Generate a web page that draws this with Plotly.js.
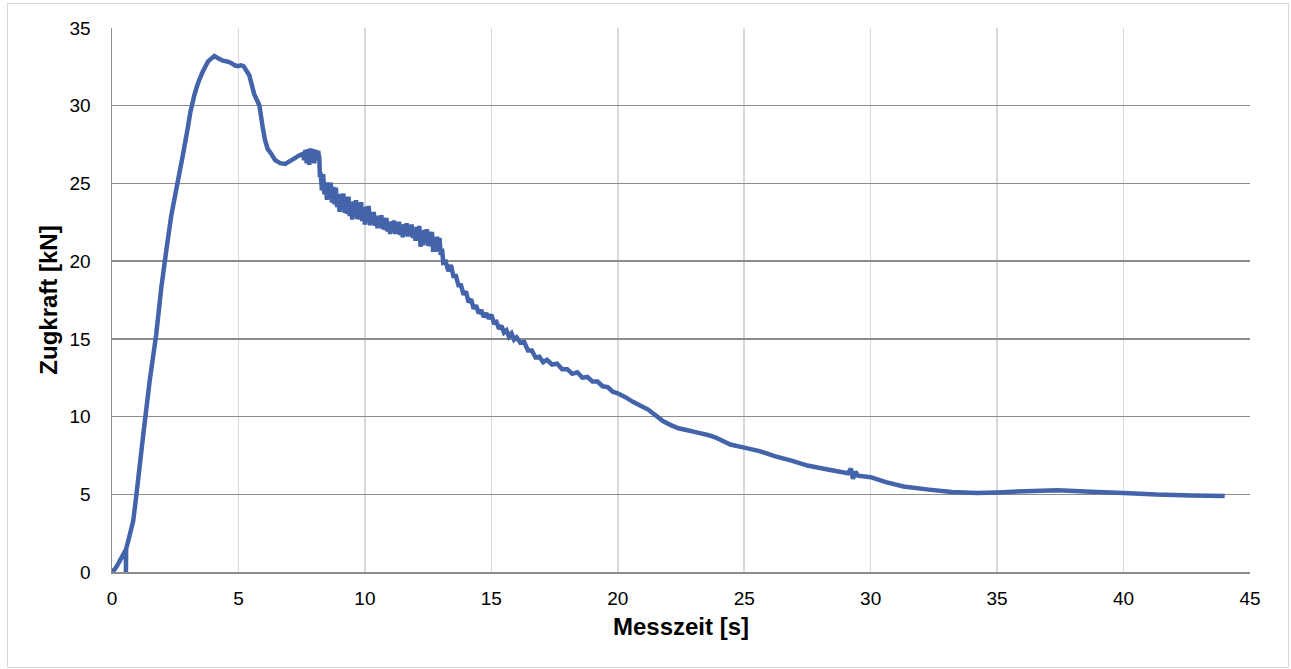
<!DOCTYPE html>
<html>
<head>
<meta charset="utf-8">
<script src="https://cdn.plot.ly/plotly-3.0.1.min.js"></script>
<style>
  html, body { margin: 0; padding: 0; background: #ffffff; }
  #wrap { position: relative; width: 1291px; height: 669px; }
  #chart { position: absolute; left: 0; top: 0; width: 1291px; height: 669px; }
  #frame { position: absolute; left: 7px; top: 3px; width: 1280px; height: 663px; border: 1px solid #d9d9d9; pointer-events: none; }
</style>
</head>
<body>
<div id="wrap">
  <div id="chart"></div>
  <div id="frame"></div>
</div>
<script>
// Messzeit [s]
const zeit = [
  0, 0.1, 0.2, 0.3, 0.4, 0.5, 0.55, 0.55, 0.56, 0.65, 0.84, 0.96,
  1.22, 1.49, 1.75, 1.95, 2.14, 2.34, 2.61, 2.8, 3.0, 3.1, 3.26, 3.36, 3.46, 3.59, 3.72, 3.8, 3.9, 4.05,
  4.2, 4.38, 4.55, 4.71, 4.85, 4.97, 5.1, 5.2, 5.3, 5.43, 5.55, 5.63, 5.75, 5.83,
  5.96, 6.05, 6.16, 6.3, 6.45, 6.65, 6.85, 7.0, 7.2, 7.4,
  7.55, 7.60, 7.65, 7.70, 7.75, 7.80, 7.85, 7.90, 7.95, 8.00, 8.05, 8.10, 8.15, 8.20, 8.22,
  8.25, 8.30, 8.35, 8.40, 8.45, 8.50, 8.55, 8.60, 8.65, 8.70,
  8.75, 8.80, 8.85, 8.90, 8.95, 9.00, 9.05, 9.10, 9.15, 9.20,
  9.25, 9.30, 9.35, 9.40, 9.45, 9.50, 9.55, 9.60, 9.65, 9.70,
  9.75, 9.80, 9.85, 9.90, 9.95, 10.00, 10.05, 10.10, 10.15, 10.20,
  10.25, 10.30, 10.35, 10.40, 10.45, 10.50, 10.55, 10.60, 10.65, 10.70,
  10.75, 10.80, 10.85, 10.90, 10.95, 11.00, 11.05, 11.10, 11.15, 11.20,
  11.25, 11.30, 11.35, 11.40, 11.45, 11.50, 11.55, 11.60, 11.65, 11.70,
  11.75, 11.80, 11.85, 11.90, 11.95, 12.00, 12.05, 12.10, 12.15, 12.20,
  12.25, 12.30, 12.35, 12.40, 12.45, 12.50, 12.55, 12.60, 12.65, 12.70,
  12.75, 12.80, 12.85, 12.90, 12.95, 13.00, 13.05, 13.10,
  13.2, 13.3, 13.4, 13.5, 13.6, 13.7, 13.8, 13.9, 14.0, 14.1, 14.2, 14.3, 14.4,
  14.5, 14.6, 14.7, 14.8, 14.9, 15.0, 15.1, 15.2, 15.3, 15.4, 15.5, 15.6, 15.7,
  15.8, 15.9, 16.0, 16.15, 16.3, 16.45, 16.6, 16.75, 16.9, 17.05, 17.2, 17.4,
  17.6, 17.8, 18.0, 18.2, 18.4, 18.6, 18.8, 19.0, 19.2, 19.4, 19.6, 19.8, 20.0,
  20.3, 20.6, 20.9, 21.2, 21.4, 21.6, 21.8, 22.1, 22.4, 22.8, 23.2, 23.6, 23.9,
  24.2, 24.45, 25.0, 25.6, 26.2, 26.9, 27.5, 28.3, 29.1, 29.22, 29.3, 29.4, 29.5,
  30.0, 30.6, 31.3, 32.3, 33.2, 34.2, 35.0, 36.1, 37.4, 38.7, 40.0, 41.3, 42.7, 44.0
];
// Zugkraft [kN]
const zugkraft = [
  0.05, 0.15, 0.4, 0.7, 1.0, 1.3, 1.45, 0, 1.5, 2.05, 3.3, 4.9,
  8.6, 12.3, 15.3, 18.3, 20.6, 22.9, 25.2, 26.8, 28.6, 29.6, 30.7, 31.25, 31.7, 32.2, 32.6, 32.85, 33.0, 33.2,
  33.05, 32.9, 32.85, 32.75, 32.6, 32.55, 32.6, 32.55, 32.3, 31.95, 31.2, 30.7, 30.3, 30.0,
  28.6, 27.8, 27.2, 26.9, 26.5, 26.3, 26.25, 26.4, 26.6, 26.8,
  26.9, 26.5, 27.15, 26.3, 27.2, 26.2, 27.25, 26.35, 27.2, 26.3, 27.15, 26.5, 27.1, 26.6, 25.4,
  25.7, 24.55, 25.6, 24.3, 25.05, 23.95, 25.07, 24.03, 25.05, 23.77,
  24.78, 23.65, 24.73, 23.47, 24.25, 23.18, 24.32, 23.3, 24.35, 23.1,
  24.15, 23.05, 24.15, 22.9, 23.72, 22.68, 23.85, 22.87, 23.93, 22.7,
  23.77, 22.68, 23.8, 22.57, 23.38, 22.35, 23.5, 22.5, 23.55, 22.3,
  23.17, 22.38, 23.16, 22.28, 22.85, 22.11, 22.92, 22.22, 22.95, 22.07,
  22.8, 22.01, 22.78, 21.9, 22.47, 21.74, 22.56, 21.87, 22.61, 21.75,
  22.5, 21.75, 22.54, 21.68, 22.27, 21.54, 22.37, 21.69, 22.44, 21.58,
  22.34, 21.58, 22.36, 21.48, 22.05, 21.31, 22.2, 21.36, 22.27, 20.93,
  21.9, 21.02, 22.0, 21.16, 22.06, 20.99, 21.89, 20.95, 21.89, 20.6,
  21.5, 20.6, 21.57, 20.71, 21.5, 20.4, 20.8, 19.9,
  19.95, 19.35, 19.75, 19.05, 19.05, 18.45, 18.45, 17.85, 18.05, 17.35, 17.55, 16.95, 17.15,
  16.65, 16.85, 16.4, 16.65, 16.3, 16.55, 16.05, 16.1, 15.65, 15.85, 15.4, 15.55, 15.15,
  15.35, 14.95, 15.1, 14.75, 14.8, 14.25, 14.25, 13.8, 13.85, 13.5, 13.65, 13.35,
  13.4, 13.05, 13.05, 12.75, 12.85, 12.5, 12.55, 12.25, 12.25, 11.95, 11.9, 11.6, 11.5,
  11.25, 10.95, 10.7, 10.45, 10.2, 9.95, 9.7, 9.45, 9.25, 9.1, 8.95, 8.8, 8.63,
  8.4, 8.2, 8.0, 7.78, 7.45, 7.15, 6.85, 6.6, 6.35, 6.65, 6.0, 6.45, 6.2,
  6.1, 5.78, 5.5, 5.3, 5.15, 5.08, 5.12, 5.2, 5.26, 5.17, 5.09, 4.98, 4.92, 4.89
];
const xTicks = [0, 5, 10, 15, 20, 25, 30, 35, 40, 45];
const yTicks = [0, 5, 10, 15, 20, 25, 30, 35];

const fontFam = '"Liberation Sans", Arial, sans-serif';

const trace = {
  type: 'scatter',
  mode: 'lines',
  x: zeit,
  y: zugkraft,
  line: { color: '#4363aa', width: 4.5, simplify: false },
  hoverinfo: 'x+y',
  showlegend: false
};

const layout = {
  width: 1291,
  height: 669,
  margin: { l: 112, r: 41, t: 28, b: 97, pad: 0 },
  paper_bgcolor: 'rgba(0,0,0,0)',
  plot_bgcolor: '#ffffff',
  font: { family: fontFam, color: '#000000', size: 19 },
  showlegend: false,
  xaxis: {
    range: [0, 45],
    tickmode: 'array',
    tickvals: xTicks,
    ticktext: xTicks.map(String),
    showgrid: true,
    gridcolor: '#d9d9d9',
    gridwidth: 1.5,
    zeroline: false,
    showline: true,
    linecolor: '#8c8c8c',
    linewidth: 1.5,
    ticks: '',
    ticklabelstandoff: 9,
    tickfont: { family: fontFam, size: 19, color: '#000000' },
    automargin: false,
    title: { text: 'Messzeit [s]', font: { family: fontFam, size: 24, color: '#000000', weight: 'bold' }, standoff: 10 }
  },
  yaxis: {
    range: [0, 35],
    tickmode: 'array',
    tickvals: yTicks,
    ticktext: yTicks.map(String),
    showgrid: true,
    gridcolor: '#8c8c8c',
    gridwidth: 1.5,
    zeroline: false,
    showline: true,
    linecolor: '#8c8c8c',
    linewidth: 1.5,
    ticks: '',
    ticklabelstandoff: 16,
    tickfont: { family: fontFam, size: 19, color: '#000000' },
    automargin: false,
    title: { text: 'Zugkraft [kN]', font: { family: fontFam, size: 24, color: '#000000', weight: 'bold' }, standoff: 5 }
  }
};

Plotly.newPlot('chart', [trace], layout, { displayModeBar: false, staticPlot: true });
</script>
</body>
</html>
